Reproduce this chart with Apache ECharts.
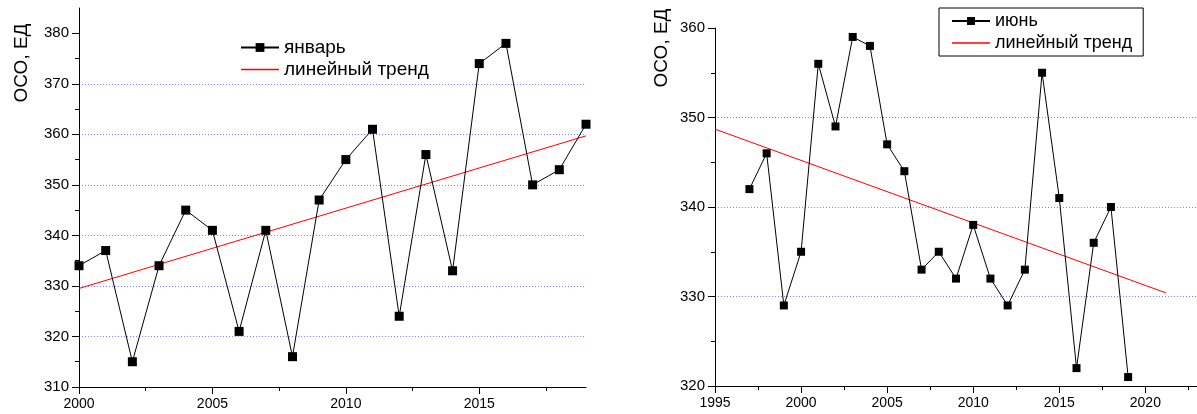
<!DOCTYPE html>
<html><head><meta charset="utf-8">
<script src="https://cdn.jsdelivr.net/npm/echarts@6/dist/echarts.min.js"></script>
<style>html,body{margin:0;padding:0;background:#fff}#c{width:1197px;height:414px}</style>
</head><body><div id="c"></div>
<script>
// Left chart: January
const janYears = [2000,2001,2002,2003,2004,2005,2006,2007,2008,2009,2010,2011,2012,2013,2014,2015,2016,2017,2018,2019];
const janValues = [334,337,315,334,345,341,321,341,316,347,355,361,324,356,333,374,378,350,353,362];
const janTrendX = [2000, 2019];
const janTrendY = [329.5, 359.7];
const janYTicks = [310,320,330,340,350,360,370,380];
const janXTicks = [2000,2005,2010,2015];
// Right chart: June
const junYears = [1997,1998,1999,2000,2001,2002,2003,2004,2005,2006,2007,2008,2009,2010,2011,2012,2013,2014,2015,2016,2017,2018,2019];
const junValues = [342,346,329,335,356,349,359,358,347,344,333,335,332,338,332,329,333,355,341,322,336,340,321];
const junTrendX = [1995, 2021.2];
const junTrendY = [348.7, 330.4];
const junYTicks = [320,330,340,350,360];
const junXTicks = [1995,2000,2005,2010,2015,2020];

const FONT = '"Liberation Sans", Arial, sans-serif';
const gridLine = {show:true, showMinLine:false, showMaxLine:false, lineStyle:{color:'#8080ff', width:1, type:[1,2]}};
function xAxis(gi, min, max, ticks){
  return {type:'value', gridIndex:gi, min:min, max:max, interval:5,
    axisLine:{show:true, onZero:false, lineStyle:{color:'#000', width:1}},
    axisTick:{show:true, inside:false, length:7, customValues:ticks, lineStyle:{color:'#000'}},
    minorTick:{show:true, splitNumber:2, length:4, lineStyle:{color:'#000'}},
    axisLabel:{customValues:ticks, formatter:v=>String(v), color:'#000', fontSize:14, fontFamily:FONT, margin:10},
    splitLine:{show:false}};
}
function yAxis(gi, min, max, ticks){
  return {type:'value', gridIndex:gi, min:min, max:max, interval:10,
    axisLine:{show:true, onZero:false, lineStyle:{color:'#000', width:1}},
    axisTick:{show:true, inside:false, length:7, customValues:ticks, lineStyle:{color:'#000'}},
    minorTick:{show:true, splitNumber:2, length:4, lineStyle:{color:'#000'}},
    axisLabel:{customValues:ticks, formatter:v=>String(v), color:'#000', fontSize:15, fontFamily:FONT, margin:10},
    splitLine:gridLine};
}
function zip(a,b){return a.map((v,i)=>[v,b[i]]);}
const trendIcon = 'path://M0,0 L38,0 L38,1.3 L0,1.3 Z';

const chart = echarts.init(document.getElementById('c'), null, {renderer:'canvas'});
chart.setOption({
  animation:false,
  backgroundColor:'#fff',
  grid:[
    {left:79, right:611, top:8, bottom:27},
    {left:715, right:-8, top:28, bottom:28}
  ],
  xAxis:[xAxis(0,2000,2019,janXTicks), xAxis(1,1995,2023,junXTicks)],
  yAxis:[yAxis(0,310,385,janYTicks), yAxis(1,320,360,junYTicks)],
  legend:[
    {data:['январь',{name:'линейный тренд', icon:trendIcon, itemStyle:{color:'#ff0000'}}], orient:'vertical', left:240, top:38, padding:0,
     itemWidth:38, itemHeight:11, itemGap:3,
     textStyle:{color:'#000', fontSize:19, fontFamily:FONT}},
    {data:['июнь',{name:'линейный тренд', icon:trendIcon, itemStyle:{color:'#ff0000'}}], orient:'vertical', left:939, top:8,
     padding:[4,11,4,12], borderColor:'#000', borderWidth:1,
     itemWidth:38, itemHeight:10, itemGap:4,
     textStyle:{color:'#000', fontSize:18, fontFamily:FONT}}
  ],
  graphic:[
    {type:'text', x:22, y:63, rotation:Math.PI/2, style:{text:'ОСО, ЕД', font:'19px "Liberation Sans", Arial, sans-serif', fill:'#000', textAlign:'center', textVerticalAlign:'middle'}},
    {type:'text', x:662, y:48, rotation:Math.PI/2, style:{text:'ОСО, ЕД', font:'19px "Liberation Sans", Arial, sans-serif', fill:'#000', textAlign:'center', textVerticalAlign:'middle'}}
  ],
  series:[
    {name:'линейный тренд', type:'line', xAxisIndex:0, yAxisIndex:0, data:zip(janTrendX,janTrendY),
     symbol:'none', lineStyle:{color:'#ff0000', width:1}, itemStyle:{color:'#ff0000'}, z:2},
    {name:'январь', type:'line', xAxisIndex:0, yAxisIndex:0, data:zip(janYears,janValues),
     symbol:'rect', symbolSize:9, lineStyle:{color:'#000', width:1}, itemStyle:{color:'#000'}, z:3},
    {name:'линейный тренд', type:'line', xAxisIndex:1, yAxisIndex:1, data:zip(junTrendX,junTrendY),
     symbol:'none', lineStyle:{color:'#ff0000', width:1}, itemStyle:{color:'#ff0000'}, z:2},
    {name:'июнь', type:'line', xAxisIndex:1, yAxisIndex:1, data:zip(junYears,junValues),
     symbol:'rect', symbolSize:8, lineStyle:{color:'#000', width:1}, itemStyle:{color:'#000'}, z:3}
  ]
});
</script></body></html>
